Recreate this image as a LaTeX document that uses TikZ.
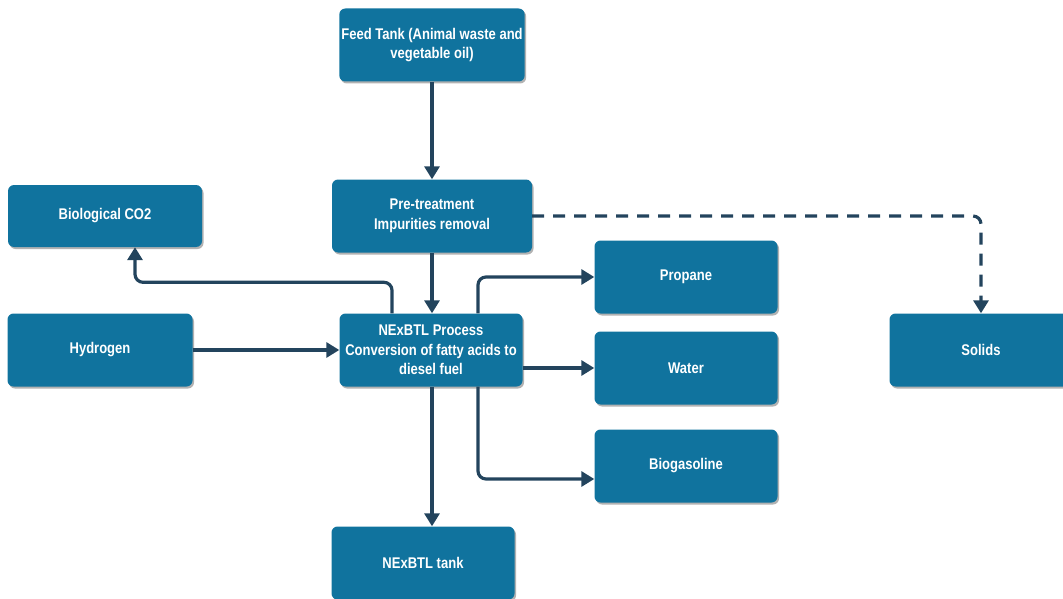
\documentclass[tikz,border=0pt]{standalone}
\usepackage{fontspec}
\setmainfont{Liberation Sans}[FakeStretch=0.84]
\usepackage{tikz}
\usetikzlibrary{arrows.meta,shadows}
\definecolor{procblue}{HTML}{10739E}
\definecolor{pipenavy}{HTML}{23445D}

\begin{document}
\begin{tikzpicture}[x=1pt, y=-1pt,
	unit/.style={rectangle, rounded corners=6pt, fill=procblue, text=white, align=center,
		font=\bfseries\fontsize{15.5}{19.5}\selectfont, inner sep=2pt,
		minimum width=183pt, minimum height=73pt,
		drop shadow={shadow xshift=1.5pt, shadow yshift=-2pt, fill=black, opacity=0.3}},
	pipe/.style={draw=pipenavy, line width=3.2pt, rounded corners=8pt,
		-{Triangle[length=13pt, width=15pt]}}]
\useasboundingbox (0,0) rectangle (1063,599);

\node[unit] (feed) at (432,45) {Feed Tank (Animal waste and\\vegetable oil)};
\node[unit, minimum width=200pt] (pre) at (432,216) {Pre-treatment\\Impurities removal};
\node[unit, minimum width=194pt, minimum height=62pt] (co2) at (105,216) {Biological CO2};
\node[unit, minimum width=185pt] (hyd) at (100,350) {Hydrogen};
\node[unit] (nex) at (431,350) {NExBTL Process\\Conversion of fatty acids to\\diesel fuel};
\node[unit] (prop) at (686,277) {Propane};
\node[unit] (water) at (686,368) {Water};
\node[unit] (bio) at (686,466) {Biogasoline};
\node[unit] (solid) at (981,350) {Solids};
\node[unit] (tank) at (423,563) {NExBTL tank};

\draw[pipe] (feed) -- (pre);
\draw[pipe] (pre) -- (pre |- nex.north);
\draw[pipe] (hyd) -- (nex);
\draw[pipe] ([xshift=-39pt]nex.north) -- ++(0,-31) -| ([xshift=30pt]co2.south);
\draw[pipe] ([xshift=47pt]nex.north) |- (prop.west);
\draw[pipe] (nex.east |- water.west) -- (water.west);
\draw[pipe] ([xshift=47pt]nex.south) |- ([yshift=-13pt]bio.west);
\draw[pipe] (nex.south -| pre) -- (tank.north -| pre);
\draw[pipe, dash pattern=on 12pt off 9pt] (pre.east) -| (solid.north);
\end{tikzpicture}
\end{document}
